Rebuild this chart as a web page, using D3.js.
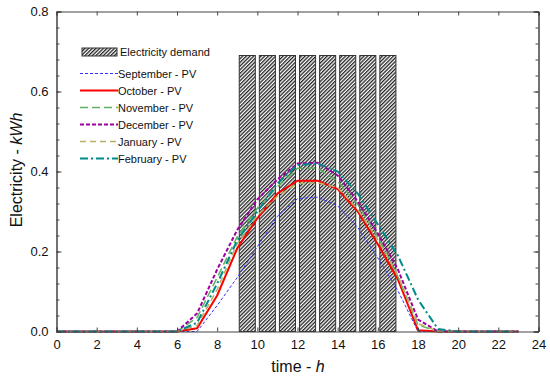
<!DOCTYPE html>
<html><head><meta charset="utf-8">
<script src="https://cdn.jsdelivr.net/npm/d3@7"></script>
<style>body{margin:0;background:#fff}svg{display:block}text{font-family:Arial,"Liberation Sans",sans-serif}</style>
</head><body>
<svg id="c" width="550" height="378"></svg>
<script>
const hours = d3.range(0, 24);
const demandHours = [9, 10, 11, 12, 13, 14, 15, 16];
const demandValues = [0.69, 0.69, 0.69, 0.69, 0.69, 0.69, 0.69, 0.69];
const xTicks = [0, 2, 4, 6, 8, 10, 12, 14, 16, 18, 20, 22, 24];
const yTicks = [0.0, 0.2, 0.4, 0.6, 0.8];
const seriesNames = ["September - PV", "October - PV", "November - PV", "December - PV", "January - PV", "February - PV"];
const september = [0,0,0,0,0,0,0,0,0.065,0.135,0.212,0.288,0.332,0.336,0.314,0.26,0.184,0.102,0,0,0,0,0,0];
const october   = [0,0,0,0,0,0,0,0.008,0.09,0.208,0.283,0.345,0.377,0.377,0.356,0.30,0.218,0.13,0.003,0,0,0,0,0];
const november  = [0,0,0,0,0,0,0,0.035,0.135,0.237,0.308,0.362,0.408,0.408,0.375,0.318,0.238,0.137,0.016,0,0,0,0,0];
const december  = [0,0,0,0,0,0,0,0.045,0.155,0.254,0.33,0.38,0.42,0.422,0.39,0.325,0.245,0.155,0.03,0,0,0,0,0];
const january   = [0,0,0,0,0,0,0,0.015,0.105,0.22,0.29,0.338,0.37,0.372,0.36,0.305,0.23,0.14,0.02,0,0,0,0,0];
const february  = [0,0,0,0,0,0,0,0.022,0.12,0.228,0.30,0.37,0.416,0.42,0.40,0.345,0.268,0.19,0.08,0.006,0,0,0,0];

const styles = [
  {color:"#3030ff", width:1, dash:"3,2"},
  {color:"#ff0000", width:2, dash:null},
  {color:"#5fb05f", width:1.5, dash:"8,4"},
  {color:"#a000a0", width:2, dash:"4,2"},
  {color:"#b8b060", width:1.5, dash:"6,4"},
  {color:"#008b8b", width:2, dash:"8,3,2,3"}
];
const seriesData = [september, october, november, december, january, february];

const svg = d3.select("#c");
const m = {l:56.5, r:538.5, t:11.5, b:331.5};
const x = d3.scaleLinear().domain([0,24]).range([m.l, m.r]);
const y = d3.scaleLinear().domain([0,0.8]).range([m.b, m.t]);

const defs = svg.append("defs");
const pat = defs.append("pattern").attr("id","hatch").attr("patternUnits","userSpaceOnUse")
  .attr("width",2.6).attr("height",2.6).attr("patternTransform","rotate(45)");
pat.append("rect").attr("width",2.6).attr("height",2.6).attr("fill","#fff");
pat.append("rect").attr("width",1.3).attr("height",2.6).attr("fill","#222");

// bars
svg.append("g").selectAll("rect").data(demandHours).join("rect")
  .attr("x", (d)=>x(d+0.1)).attr("width", x(0.8)-x(0))
  .attr("y", (d,i)=>y(demandValues[i])).attr("height", (d,i)=>y(0)-y(demandValues[i]))
  .attr("fill","url(#hatch)").attr("stroke","#333").attr("stroke-width",1);

// lines
const line = d3.line().x((d,i)=>x(hours[i])).y(d=>y(d));
seriesData.forEach((s,k)=>{
  svg.append("path").datum(s).attr("d",line).attr("fill","none")
    .attr("stroke",styles[k].color).attr("stroke-width",styles[k].width)
    .attr("stroke-dasharray",styles[k].dash);
});

// axes frame
const axColor = "#444";
const gAx = svg.append("g");
gAx.append("g").attr("transform",`translate(0,${m.b})`)
  .call(d3.axisBottom(x).tickValues(xTicks).tickSize(-4).tickPadding(8).tickFormat(d3.format("d")));
gAx.append("g").attr("transform",`translate(0,${m.t})`)
  .call(d3.axisTop(x).tickValues(xTicks).tickSize(-4).tickFormat(""));
const yMinor = d3.range(0, 0.8001, 0.04);
gAx.append("g").attr("transform",`translate(${m.l},0)`)
  .call(d3.axisLeft(y).tickValues(yMinor).tickSize(-3).tickFormat(""));
gAx.append("g").attr("transform",`translate(${m.r},0)`)
  .call(d3.axisRight(y).tickValues(yMinor).tickSize(-3).tickFormat(""));
gAx.append("g").attr("transform",`translate(${m.l},0)`)
  .call(d3.axisLeft(y).tickValues(yTicks).tickSize(-5).tickPadding(8).tickFormat(d3.format(".1f")));
gAx.append("g").attr("transform",`translate(${m.r},0)`)
  .call(d3.axisRight(y).tickValues(yTicks).tickSize(-5).tickFormat(""));
gAx.selectAll(".domain").attr("stroke",axColor);
gAx.selectAll(".tick line").attr("stroke",axColor);
gAx.selectAll(".tick text").attr("font-size","13px").attr("fill","#111");

// axis titles
const xt = svg.append("text").attr("x",298).attr("y",372).attr("text-anchor","middle").attr("font-size","16px").attr("fill","#111");
xt.append("tspan").text("time - ");
xt.append("tspan").attr("font-style","italic").text("h");
const yt = svg.append("text").attr("transform","translate(22,170) rotate(-90)").attr("text-anchor","middle").attr("font-size","16px").attr("fill","#111");
yt.append("tspan").text("Electricity - ");
yt.append("tspan").attr("font-style","italic").text("kWh");

// legend
const lg = svg.append("g");
lg.append("rect").attr("x",82).attr("y",48).attr("width",35).attr("height",8)
  .attr("fill","url(#hatch)").attr("stroke","#333").attr("stroke-width",1);
lg.append("text").attr("x",120).attr("y",56).attr("font-size","11px").attr("fill","#111").text("Electricity demand");
const rowY = [73.5, 90.5, 107.5, 124.5, 141.5, 158.5];
seriesNames.forEach((n,k)=>{
  lg.append("line").attr("x1",80).attr("x2",118).attr("y1",rowY[k]).attr("y2",rowY[k])
    .attr("stroke",styles[k].color).attr("stroke-width",styles[k].width).attr("stroke-dasharray",styles[k].dash);
  lg.append("text").attr("x",118).attr("y",rowY[k]+4).attr("font-size","11px").attr("fill","#111").text(n);
});
</script>
</body></html>
